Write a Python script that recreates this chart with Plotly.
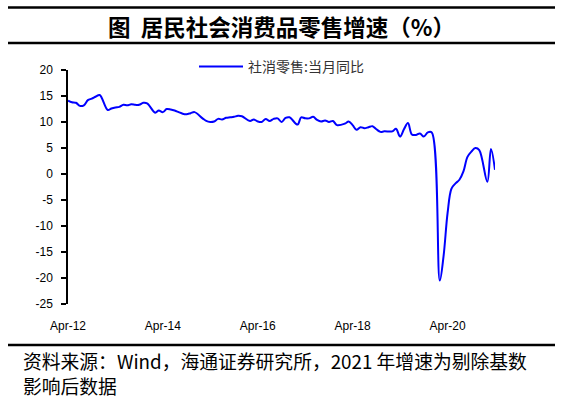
import plotly.graph_objects as go

# ---------------- data ----------------
months = (
    ["2012-%02d" % m for m in range(4, 13)]
    + ["%d-%02d" % (y, m) for y in range(2013, 2021) for m in range(2, 13)]
    + ["2021-02", "2021-03", "2021-04"]
)
retail_yoy = [
    14.1, 13.8, 13.7, 13.1, 13.2, 14.2, 14.5, 14.9, 15.2,              # 2012
    12.3, 12.6, 12.8, 12.9, 13.3, 13.2, 13.4, 13.3, 13.3, 13.7, 13.6,  # 2013
    11.8, 12.2, 11.9, 12.5, 12.4, 12.2, 11.9, 11.6, 11.5, 11.7, 11.9,  # 2014
    10.7, 10.2, 10.0, 10.1, 10.6, 10.5, 10.8, 10.9, 11.0, 11.2, 11.1,  # 2015
    10.2, 10.5, 10.1, 10.0, 10.6, 10.2, 10.6, 10.7, 10.0, 10.8, 10.9,  # 2016
    9.5, 10.9, 10.7, 10.7, 11.0, 10.4, 10.1, 10.3, 10.0, 10.2, 9.4,    # 2017
    9.7, 10.1, 9.4, 8.5, 9.0, 8.8, 9.0, 9.2, 8.6, 8.1, 8.2,            # 2018
    8.2, 8.7, 7.2, 8.6, 9.8, 7.6, 7.5, 7.8, 7.2, 8.0, 8.0,             # 2019
    -20.5, -15.8, -7.5, -2.8, -1.8, -1.1, 0.5, 3.3, 4.3, 5.0, 4.6,     # 2020
    -1.5, 4.8, 0.8,                                                    # 2021
]
series_name = "社消零售:当月同比"
x_tick_vals = ["2012-04-01", "2014-04-01", "2016-04-01", "2018-04-01", "2020-04-01"]
x_tick_text = ["Apr-12", "Apr-14", "Apr-16", "Apr-18", "Apr-20"]
y_tick_vals = [-25, -20, -15, -10, -5, 0, 5, 10, 15, 20]
y_tick_text = ["-25", "-20", "-15", "-10", "-5", "0", "5", "10", "15", "20"]
title_text = "图  居民社会消费品零售增速（%）"
source_line1 = "资料来源：Wind，海通证券研究所，2021 年增速为剔除基数"
source_line2 = "影响后数据"

# ---------------- layout helpers ----------------
W, H = 565, 398
L, R, T, B = 68, 70, 70, 94
PW, PH = W - L - R, H - T - B


def px_x(px):
    return (px - L) / PW


def px_y(py):
    return (H - B - py) / PH


CJK = "Noto Sans CJK SC"
LAT = "Liberation Sans, Arial"

fig = go.Figure()
fig.add_trace(go.Scatter(
    x=months, y=retail_yoy, mode="lines", name=series_name,
    line=dict(color="#0000FF", width=2, shape="spline", smoothing=1),
    showlegend=True, hoverinfo="skip",
))

fig.update_layout(
    width=W, height=H,
    margin=dict(l=L, r=R, t=T, b=B),
    paper_bgcolor="white", plot_bgcolor="white",
    showlegend=True,
    legend=dict(
        x=px_x(194), y=px_y(51), xanchor="left", yanchor="top",
        bgcolor="rgba(0,0,0,0)", borderwidth=0,
        font=dict(family=CJK, size=14, color="#333333"),
        itemwidth=44, tracegroupgap=0,
    ),
    xaxis=dict(
        type="date", range=["2012-04-01", "2021-04-01"],
        tickvals=x_tick_vals, ticktext=x_tick_text,
        showline=False, ticks="", showgrid=False, zeroline=False,
        tickfont=dict(family=LAT, size=12, color="black"),
        ticklabelstandoff=13,
    ),
    xaxis2=dict(
        type="date", range=["2012-04-01", "2021-04-01"],
        overlaying="x", anchor="free", position=25 / 45,
        tickvals=x_tick_vals[1:], showticklabels=False,
        showline=True, linecolor="black", linewidth=1.5,
        ticks="outside", ticklen=4, tickwidth=1.5, tickcolor="black",
        showgrid=False, zeroline=False,
    ),
    yaxis=dict(
        range=[-25, 20], tickvals=y_tick_vals, ticktext=y_tick_text,
        showline=True, linecolor="black", linewidth=1.5,
        ticks="outside", ticklen=5, tickwidth=1.5, tickcolor="black",
        showgrid=False, zeroline=False,
        tickfont=dict(family=LAT, size=12, color="black"),
        ticklabelstandoff=6,
    ),
    shapes=[
        dict(type="line", xref="paper", yref="paper",
             x0=px_x(8), x1=px_x(555), y0=px_y(7.5), y1=px_y(7.5),
             line=dict(color="black", width=2.5)),
        dict(type="line", xref="paper", yref="paper",
             x0=px_x(8), x1=px_x(555), y0=px_y(43), y1=px_y(43),
             line=dict(color="black", width=2.5)),
        dict(type="line", xref="paper", yref="paper",
             x0=px_x(8), x1=px_x(555), y0=px_y(345), y1=px_y(345),
             line=dict(color="black", width=2.5)),
    ],
    annotations=[
        dict(text="<b>" + title_text + "</b>", xref="paper", yref="paper",
             x=px_x(281), y=px_y(26), xanchor="center", yanchor="middle",
             showarrow=False, font=dict(family=CJK, size=22.5, color="black")),
        dict(text=source_line1, xref="paper", yref="paper",
             x=px_x(21), y=px_y(360.5), xanchor="left", yanchor="middle",
             showarrow=False, font=dict(family=CJK, size=18.8, color="black")),
        dict(text=source_line2, xref="paper", yref="paper",
             x=px_x(21), y=px_y(385.5), xanchor="left", yanchor="middle",
             showarrow=False, font=dict(family=CJK, size=18.8, color="black")),
    ],
)

fig.write_html(
    "out.html",
    config={"displayModeBar": False},
    post_script="document.body.style.margin='0';document.body.style.overflow='hidden';",
)
